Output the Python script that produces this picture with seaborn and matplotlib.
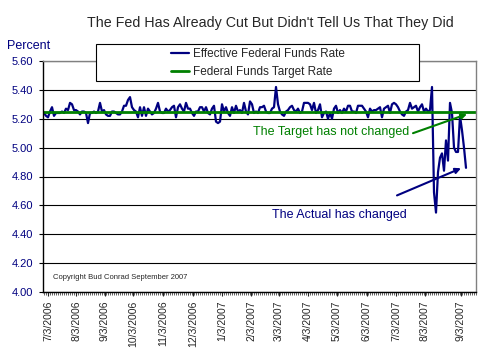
import pandas as pd
import numpy as np
import matplotlib
matplotlib.use("Agg")
import matplotlib.pyplot as plt
import seaborn as sns
from matplotlib.ticker import MultipleLocator, FormatStrFormatter
from matplotlib.patches import Rectangle

# Effective fed funds rate (one value per ~2 px column)
effective = [
    5.24, 5.22, 5.21, 5.25, 5.28, 5.22, 5.24, 5.24, 5.24, 5.25,
    5.24, 5.27, 5.26, 5.31, 5.30, 5.26, 5.26, 5.25, 5.23, 5.25,
    5.25, 5.24, 5.17, 5.24, 5.24, 5.25, 5.24, 5.25, 5.31, 5.25,
    5.26, 5.23, 5.22, 5.22, 5.25, 5.25, 5.24, 5.23, 5.23, 5.25,
    5.29, 5.29, 5.33, 5.35, 5.28, 5.26, 5.25, 5.21, 5.28, 5.22,
    5.28, 5.22, 5.27, 5.25, 5.23, 5.24, 5.27, 5.31, 5.25, 5.24,
    5.24, 5.27, 5.25, 5.26, 5.28, 5.29, 5.21, 5.28, 5.30, 5.27,
    5.25, 5.31, 5.27, 5.27, 5.24, 5.22, 5.25, 5.25, 5.28, 5.28,
    5.25, 5.28, 5.24, 5.23, 5.27, 5.29, 5.18, 5.17, 5.18, 5.30,
    5.25, 5.28, 5.24, 5.22, 5.28, 5.24, 5.29, 5.25, 5.26, 5.24,
    5.31, 5.25, 5.23, 5.32, 5.30, 5.24, 5.25, 5.24, 5.28, 5.28,
    5.29, 5.25, 5.24, 5.24, 5.27, 5.28, 5.42, 5.30, 5.25, 5.23,
    5.22, 5.25, 5.26, 5.28, 5.29, 5.26, 5.25, 5.27, 5.24, 5.25,
    5.31, 5.31, 5.31, 5.30, 5.26, 5.31, 5.24, 5.26, 5.30, 5.21,
    5.24, 5.25, 5.20, 5.24, 5.20, 5.27, 5.29, 5.24, 5.26, 5.24,
    5.27, 5.25, 5.29, 5.29, 5.25, 5.25, 5.24, 5.29, 5.29, 5.29,
    5.27, 5.25, 5.21, 5.27, 5.25, 5.26, 5.26, 5.27, 5.28, 5.21,
    5.27, 5.28, 5.29, 5.24, 5.30, 5.31, 5.30, 5.28, 5.25, 5.23,
    5.22, 5.25, 5.26, 5.31, 5.27, 5.28, 5.29, 5.25, 5.28, 5.30,
    5.25, 5.27, 5.25, 5.26, 5.42, 4.69, 4.55, 4.83, 4.93, 4.96,
    4.84, 5.05, 4.91, 5.31, 5.24, 5.00, 4.97, 4.97, 5.22, 5.12,
    5.00, 4.86,
]
target_rate = 5.25

date_labels = ["7/3/2006", "8/3/2006", "9/3/2006", "10/3/2006", "11/3/2006",
               "12/3/2006", "1/3/2007", "2/3/2007", "3/3/2007", "4/3/2007",
               "5/3/2007", "6/3/2007", "7/3/2007", "8/3/2007", "9/3/2007"]
label_pos = [2, 16, 30.5, 44.5, 59.5, 74.5, 89, 103.5, 117.5, 132,
             146.5, 161.5, 176, 190.5, 208.5]

navy = "#000080"
green = "#008000"

sns.set_style("white")
plt.rcParams['font.family'] = ['Liberation Sans', 'DejaVu Sans']

df = pd.DataFrame({"obs": range(len(effective)), "rate": effective})

fig = plt.figure(figsize=(4.88, 3.58), dpi=100)
ax = fig.add_axes([43/488, 1-292/358, 433/488, 231/358])

sns.lineplot(data=df, x="obs", y="rate", color=navy, lw=1.6, ax=ax,
             label="Effective Federal Funds Rate")
ax.axhline(target_rate, color=green, lw=2, label="Federal Funds Target Rate")

ax.set_xlim(-0.5, 216)
ax.set_ylim(4.0, 5.6)
ax.set_xlabel("")
ax.set_ylabel("")
ax.set_yticks(np.arange(4.0, 5.61, 0.2))
ax.yaxis.set_major_formatter(FormatStrFormatter("%.2f"))
ax.set_xticks(label_pos)
ax.set_xticklabels(date_labels, rotation=90)
ax.xaxis.set_minor_locator(MultipleLocator(1))
ax.tick_params(axis='y', direction='out', length=3, width=0.8, colors='black',
               labelcolor=navy, labelsize=8, pad=4, left=True)
ax.tick_params(axis='x', which='major', direction='out', length=3, width=0.8,
               labelsize=7.5, pad=3, bottom=True)
ax.tick_params(axis='x', which='minor', direction='out', length=2, width=0.5,
               bottom=True)
ax.yaxis.grid(True, color='black', lw=0.8)
ax.set_axisbelow(True)
for s in ['top', 'right']:
    ax.spines[s].set_color('#808080')
for s in ['left', 'bottom']:
    ax.spines[s].set_color('black')
for s in ax.spines.values():
    s.set_linewidth(1)

ax.get_legend().remove()
handles, labels = ax.get_legend_handles_labels()

# wide legend box like the original
fig.patches.append(Rectangle((96/488, 1-81/358), 323/488, 37/358,
                             transform=fig.transFigure, facecolor='white',
                             edgecolor='black', lw=0.8, zorder=4))
leg = fig.legend(handles, labels, loc='center', bbox_to_anchor=(258/488, 1-63/358),
                 frameon=False, fontsize=8.5, handlelength=1.5, handletextpad=0.3,
                 labelspacing=0.55, borderpad=0)
leg.set_zorder(6)

fig.text(270/488, 1-23/358, "The Fed Has Already Cut But Didn't Tell Us That They Did",
         ha='center', va='center', fontsize=10.3)
fig.text(7/488, 1-46/358, "Percent", ha='left', va='center', color=navy, fontsize=9)

# annotations
ax.text(104.5, 5.107, "The Target has not changed", color=green, fontsize=9,
        va='center', ha='left')
ax.annotate("", xy=(211.5, 5.232), xytext=(184.5, 5.10),
            arrowprops=dict(arrowstyle="-|>", color=green, lw=1.5,
                            mutation_scale=8, shrinkA=0, shrinkB=0))
ax.text(114, 4.531, "The Actual has changed", color=navy, fontsize=9,
        va='center', ha='left')
ax.annotate("", xy=(208.5, 4.857), xytext=(176.5, 4.669),
            arrowprops=dict(arrowstyle="-|>", color=navy, lw=1.5,
                            mutation_scale=8, shrinkA=0, shrinkB=0))
ax.text(4.5, 4.10, "Copyright Bud Conrad September 2007", fontsize=5.5, va='center')

fig.savefig("out.png", dpi=100)
